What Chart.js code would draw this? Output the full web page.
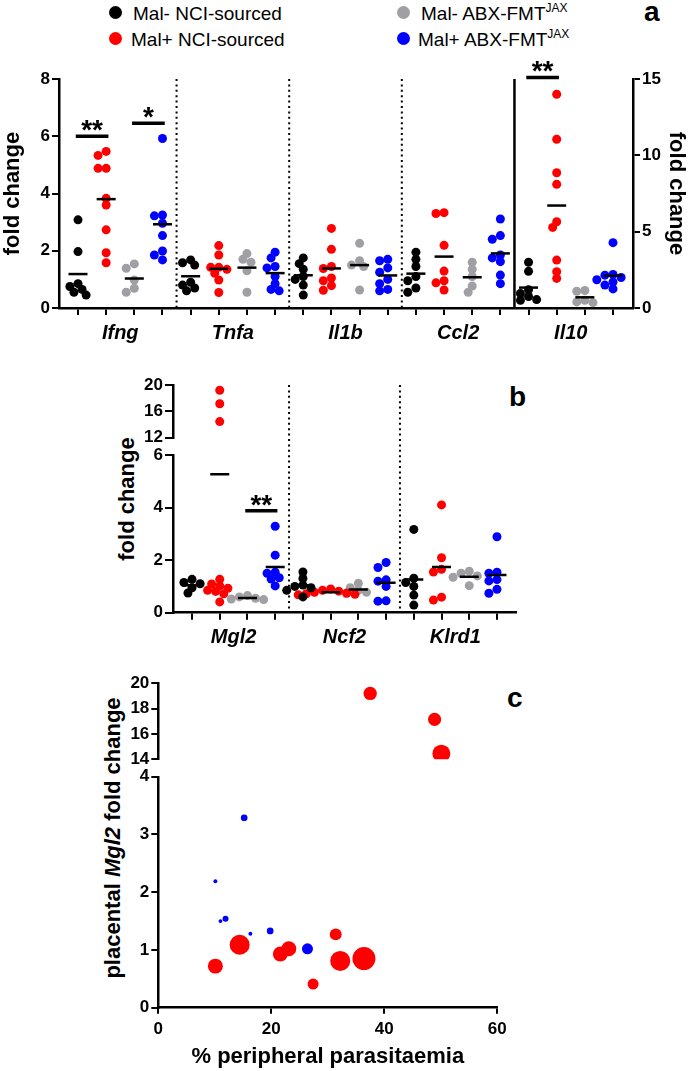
<!DOCTYPE html>
<html>
<head>
<meta charset="utf-8">
<script src="https://cdn.jsdelivr.net/npm/chart.js@4.4.0/dist/chart.umd.min.js"></script>
<style>
html,body{margin:0;padding:0;background:#fff;}
body{width:689px;height:1071px;position:relative;overflow:hidden;font-family:"Liberation Sans",Arial,sans-serif;color:#000;}
canvas{position:absolute;left:0;}
.lg{position:absolute;font-size:19px;line-height:19px;white-space:nowrap;}
.lg sup{font-size:12px;position:relative;top:-8px;vertical-align:baseline;line-height:0;}
.dot{position:absolute;width:13px;height:13px;border-radius:50%;}
.letter{position:absolute;font-weight:bold;font-size:28px;line-height:28px;}
.yt{position:absolute;font-weight:bold;font-size:22px;line-height:22px;white-space:nowrap;transform:translate(-50%,-50%) rotate(-90deg);}
</style>
</head>
<body>
<div class="dot" style="left:109px;top:6px;background:#000"></div>
<div class="lg" style="left:133px;top:4px">Mal- NCI-sourced</div>
<div class="dot" style="left:109px;top:32px;background:#ff0000"></div>
<div class="lg" style="left:131px;top:30px">Mal+ NCI-sourced</div>
<div class="dot" style="left:397px;top:6px;background:#a0a0a4"></div>
<div class="lg" style="left:421px;top:4px">Mal- ABX-FMT<sup>JAX</sup></div>
<div class="dot" style="left:397px;top:32px;background:#0000ff"></div>
<div class="lg" style="left:418px;top:30px">Mal+ ABX-FMT<sup>JAX</sup></div>
<div class="letter" style="left:644px;top:-2px">a</div>
<div class="letter" style="left:509px;top:383px">b</div>
<div class="letter" style="left:507px;top:684px">c</div>
<div class="yt" style="left:127px;top:499px">fold change</div>
<div class="yt" style="left:113px;top:838px">placental <i>Mgl2</i> fold change</div>

<canvas id="ca" width="689" height="300" style="top:50px"></canvas>
<canvas id="cb" width="689" height="300" style="top:352px"></canvas>
<canvas id="cc" width="689" height="416" style="top:655px"></canvas>

<script>
// ---------------- DATA ----------------
const groupNames = ['Mal- NCI-sourced', 'Mal+ NCI-sourced', 'Mal- ABX-FMT JAX', 'Mal+ ABX-FMT JAX'];
const groupColors = ['#000000', '#ff0000', '#a0a0a4', '#0000ff'];

// Panel a: fold change per gene, one list per group (black, red, grey, blue)
const genesA = ['Ifng', 'Tnfa', 'Il1b', 'Ccl2', 'Il10'];
const ifng = [[3.08, 1.97, 0.85, 0.75, 0.65, 0.55, 0.45], [5.47, 5.33, 4.88, 4.88, 3.83, 3.6, 2.73, 1.93, 1.58], [1.54, 1.39, 0.98, 0.69, 0.55], [5.92, 3.25, 3.22, 2.96, 2.53, 1.99, 1.85, 1.68]];
const tnfa = [[1.68, 1.58, 1.5, 0.9, 0.8, 0.7, 0.6], [2.18, 1.85, 1.42, 1.42, 1.35, 1.21, 0.98, 0.54], [1.9, 1.7, 1.6, 1.3, 0.55], [1.95, 1.75, 1.45, 1.4, 1.1, 0.85, 0.65, 0.6]];
const il1b = [[1.75, 1.55, 1.35, 1.1, 1.0, 0.8, 0.45], [2.78, 2.05, 1.45, 1.38, 1.05, 0.95, 0.78, 0.62], [2.26, 1.65, 1.5, 1.45, 0.63], [1.7, 1.65, 1.4, 1.25, 1.0, 0.85, 0.65, 0.6]];
const ccl2 = [[1.95, 1.7, 1.45, 1.1, 0.95, 0.7, 0.55], [3.33, 3.3, 2.19, 1.29, 0.95, 0.88, 0.63], [1.6, 1.35, 1.1, 0.77, 0.55], [3.11, 2.53, 2.4, 1.85, 1.75, 1.62, 1.15, 0.85]];
const il10 = [[3.0, 2.4, 1.2, 0.95, 0.75, 0.55, 0.5], [14.0, 11.05, 8.86, 8.1, 5.65, 5.28, 3.14, 2.38, 1.94], [1.15, 1.1, 0.5, 0.4, 0.35], [4.28, 2.2, 2.15, 2.0, 1.85, 1.7, 1.5, 1.25]];
const rightAxisGenesA = ['Il10'];
const yTicksA = [0, 2, 4, 6, 8];
const y2TicksA = [0, 5, 10, 15];
const sigA = [
  {from: 0, to: 1, y: 6.0, label: '**', axis: 'y'},
  {from: 2, to: 3, y: 6.45, label: '*', axis: 'y'},
  {from: 16, to: 17, y: 15.1, label: '**', axis: 'y2'}
];

// Panel b
const genesB = ['Mgl2', 'Ncf2', 'Klrd1'];
const mgl2 = [[1.27, 1.15, 1.1, 0.95, 0.75], [19.2, 17.15, 14.45, 1.27, 1.09, 1.02, 0.93, 0.85, 0.81, 0.72, 0.41], [0.65, 0.6, 0.55, 0.52, 0.5], [3.29, 2.19, 1.54, 1.5, 1.33, 1.28, 1.02]];
const ncf2 = [[1.55, 1.3, 1.05, 1.0, 0.95, 0.85, 0.6], [0.9, 0.85, 0.82, 0.78, 0.75, 0.72, 0.7, 0.68], [1.12, 0.95, 0.85, 0.78, 0.72], [1.91, 1.72, 1.25, 1.2, 1.0, 0.45, 0.44]];
const klrd1 = [[3.17, 1.31, 1.15, 1.0, 0.67, 0.29], [4.1, 2.09, 1.65, 1.55, 0.59, 0.48], [1.58, 1.5, 1.4, 1.35, 1.03], [2.89, 1.54, 1.5, 1.26, 1.21, 0.89, 0.74]];
const yTicksBLow = [0, 2, 4, 6];
const yTicksBHigh = [12, 16, 20];
const sigB = [{from: 2, to: 3, y: 3.88, label: '**', axis: 'yBot'}];

// Panel c: % peripheral parasitaemia vs placental Mgl2 fold change, bubble weight
const parasitaemiaRed = [37.5, 48.9, 50.1, 10.1, 14.4, 21.6, 23.1, 27.4, 31.4, 32.2, 36.4];
const mgl2Red = [19.2, 17.15, 14.45, 0.72, 1.09, 0.93, 1.02, 0.41, 1.27, 0.81, 0.85];
const weightRed = [5.8, 5.7, 7.8, 6.5, 8.7, 6.5, 6.5, 4.8, 5.2, 8.7, 10];
const parasitaemiaBlue = [15.2, 10.1, 11.0, 11.9, 16.3, 19.8, 26.4];
const mgl2Blue = [3.29, 2.19, 1.5, 1.54, 1.28, 1.33, 1.02];
const weightBlue = [2.9, 1.7, 1.7, 2.6, 1.7, 2.9, 4.8];
const xTicksC = [0, 20, 40, 60];
const yTicksCLow = [0, 1, 2, 3, 4];
const yTicksCHigh = [14, 16, 18, 20];

// ---------------- STYLE / LAYOUT ----------------
Chart.defaults.font.family = "'Liberation Sans', Arial, sans-serif";
Chart.defaults.color = '#000';
const TICK_FONT = {size: 17, weight: 'bold'};
const GENE_FONT = {size: 20, weight: 'bold', style: 'italic'};
const TITLE_FONT = {size: 22, weight: 'bold'};
const BORDER = {display: true, color: '#000', width: 2.5};
const PT_R = 4.5, DIAM = 9;

function yAxis(o) {
  const ax = {
    type: 'linear', axis: 'y', position: o.position || 'left',
    min: o.min, max: o.max,
    afterBuildTicks: a => { a.ticks = o.ticks.map(v => ({value: v})); },
    afterFit: s => { s.width = o.width; },
    border: BORDER,
    grid: {drawOnChartArea: false, drawTicks: true, tickLength: o.tl, lineWidth: 2, color: '#000'},
    ticks: {font: TICK_FONT, color: '#000', padding: o.pad, autoSkip: false},
    title: o.title ? {display: true, text: o.title, font: TITLE_FONT, color: '#000', padding: {top: o.titlePad || 0, bottom: 0}} : {display: false}
  };
  if (o.stack) { ax.stack = o.stack; ax.stackWeight = o.stackWeight; ax.weight = o.weight; }
  return ax;
}
function gapAxis(stack, stackWeight, width) {
  return {type: 'linear', axis: 'y', position: 'left', stack: stack, stackWeight: stackWeight, weight: 1,
    min: 0, max: 1, afterFit: s => { s.width = width; },
    border: {display: false}, grid: {display: false}, ticks: {display: false}};
}
function stripX(genes, o) {
  const n = genes.length * 4;
  return {
    type: 'linear', axis: 'x', position: 'bottom', min: o.min, max: o.max,
    afterBuildTicks: a => {
      const t = [];
      for (let i = 0; i < n; i++) t.push({value: i});
      genes.forEach((g, j) => t.push({value: j * 4 + 1.5}));
      t.sort((p, q) => p.value - q.value);
      a.ticks = t;
    },
    afterFit: s => { s.height = o.height; },
    border: BORDER,
    grid: {drawOnChartArea: false, tickLength: 7, lineWidth: 2,
      color: c => (c.tick && !Number.isInteger(c.tick.value)) ? 'rgba(0,0,0,0)' : '#000'},
    ticks: {autoSkip: false, maxRotation: 0, minRotation: 0, padding: 6, font: GENE_FONT, color: '#000',
      callback: v => Number.isInteger(v) ? '' : genes[Math.floor(v / 4)]}
  };
}

// beeswarm offsets (pixels) so that dots of one group do not overlap too much
function swarm(vals, toPx) {
  const order = vals.map((v, i) => i).sort((a, b) => vals[b] - vals[a]);
  const placed = [], off = vals.map(() => 0), step = DIAM * 0.45;
  order.forEach(i => {
    const y = toPx(vals[i]);
    for (let k = 0; k < 40; k++) {
      const o = k === 0 ? 0 : (k % 2 ? -1 : 1) * Math.ceil(k / 2) * step;
      if (placed.every(p => Math.hypot(p.x - o, p.y - y) >= DIAM * 0.72)) { off[i] = o; placed.push({x: o, y}); break; }
    }
  });
  return off;
}

function buildStrip(geneData, axisFor, toPx, pxPerX) {
  const buckets = {};
  const meanBuckets = {};
  geneData.forEach((groups, g) => {
    groups.forEach((vals, k) => {
      const xc = g * 4 + k;
      const offs = swarm(vals, v => toPx(v, g));
      vals.forEach((v, i) => {
        const ax = axisFor(v, g);
        const key = k + '|' + ax;
        (buckets[key] = buckets[key] || {k, ax, data: []}).data.push({x: xc + offs[i] / pxPerX, y: v});
      });
      const m = vals.reduce((a, b) => a + b, 0) / vals.length;
      const max = axisFor(m, g);
      (meanBuckets[max] = meanBuckets[max] || []).push({x: xc, y: m});
    });
  });
  const ds = Object.values(buckets).map(b => ({
    type: 'scatter', data: b.data, yAxisID: b.ax, order: 2,
    pointRadius: PT_R, pointBackgroundColor: groupColors[b.k], pointBorderWidth: 0, pointBorderColor: groupColors[b.k]
  }));
  Object.keys(meanBuckets).forEach(ax => ds.push({
    type: 'scatter', data: meanBuckets[ax], yAxisID: ax, order: 0,
    pointStyle: 'line', pointRadius: 9.5, pointBorderColor: '#000', pointBorderWidth: 2.5
  }));
  return ds;
}

const decor = {
  id: 'decor',
  afterDatasetsDraw(chart, args, opts) {
    const ctx = chart.ctx, xs = chart.scales.x, area = chart.chartArea;
    ctx.save();
    ctx.strokeStyle = '#000'; ctx.fillStyle = '#000';
    (opts.separators || []).forEach(s => {
      const px = xs.getPixelForValue(s.at);
      ctx.beginPath();
      ctx.lineWidth = s.solid ? 2.5 : 2;
      ctx.setLineDash(s.solid ? [] : [2, 3.4]);
      ctx.moveTo(px, area.top); ctx.lineTo(px, area.bottom); ctx.stroke();
    });
    ctx.setLineDash([]);
    (opts.sig || []).forEach(b => {
      const ys = chart.scales[b.axis];
      const x1 = xs.getPixelForValue(b.from - 0.08), x2 = xs.getPixelForValue(b.to + 0.08);
      const py = ys.getPixelForValue(b.y);
      ctx.lineWidth = 3.5;
      ctx.beginPath(); ctx.moveTo(x1, py); ctx.lineTo(x2, py); ctx.stroke();
      ctx.font = "bold 28px 'Liberation Sans', Arial, sans-serif";
      ctx.textAlign = 'center'; ctx.textBaseline = 'alphabetic';
      ctx.fillText(b.label, (x1 + x2) / 2, py + 3);
    });
    ctx.restore();
  }
};

function separators(genes, solidBefore) {
  const s = [];
  for (let g = 1; g < genes.length; g++) s.push({at: g * 4 - 0.5, solid: solidBefore.includes(genes[g])});
  return s;
}

const baseOpts = {responsive: false, animation: false, events: [],
  plugins: {legend: {display: false}, tooltip: {enabled: false}}};

// ---------------- PANEL A ----------------
const A = {left: 59, right: 633, top: 79, bottom: 308, xmin: -0.675, xmax: 19.71};
const aH = A.bottom - A.top;
const geneDataA = [ifng, tnfa, il1b, ccl2, il10];
const axisForA = (v, g) => rightAxisGenesA.includes(genesA[g]) ? 'y2' : 'y';
const toPxA = (v, g) => axisForA(v, g) === 'y2' ? v * aH / 15 : v * aH / 8;
new Chart(document.getElementById('ca'), {
  type: 'scatter',
  data: {datasets: buildStrip(geneDataA, axisForA, toPxA, (A.right - A.left) / (A.xmax - A.xmin))},
  options: Object.assign({}, baseOpts, {
    layout: {padding: {left: 0, right: 0, top: A.top - 50, bottom: 6}},
    scales: {
      x: stripX(genesA, {min: A.xmin, max: A.xmax, height: 36}),
      y: yAxis({min: 0, max: 8, ticks: yTicksA, width: A.left, tl: 7, pad: 2, title: 'fold change', titlePad: 0}),
      y2: yAxis({position: 'right', min: 0, max: 15, ticks: y2TicksA, width: 689 - A.right, tl: 7, pad: 2, title: 'fold change', titlePad: 0})
    },
    plugins: Object.assign({}, baseOpts.plugins, {decor: {separators: separators(genesA, rightAxisGenesA), sig: sigA}})
  }),
  plugins: [decor]
});

// ---------------- PANEL B ----------------
const B = {left: 173, right: 516, top: 385, bottom: 612.7, xmin: -0.686, xmax: 11.686, wHigh: 52.7, wGap: 17.3, wLow: 157.7};
const geneDataB = [mgl2, ncf2, klrd1];
const axisForB = v => v > 10 ? 'yTop' : 'yBot';
const toPxB = v => v > 10 ? (v - 12) * B.wHigh / 8 + B.wLow + B.wGap : v * B.wLow / 6;
new Chart(document.getElementById('cb'), {
  type: 'scatter',
  data: {datasets: buildStrip(geneDataB, axisForB, toPxB, (B.right - B.left) / (B.xmax - B.xmin))},
  options: Object.assign({}, baseOpts, {
    layout: {padding: {left: 0, right: 689 - B.right, top: B.top - 352, bottom: 300 - (B.bottom - 352) - 36}},
    scales: {
      x: stripX(genesB, {min: B.xmin, max: B.xmax, height: 36}),
      yBot: yAxis({min: 0, max: 6, ticks: yTicksBLow, width: B.left, tl: 8, pad: 2, stack: 'b', stackWeight: B.wLow, weight: 0}),
      yGap: gapAxis('b', B.wGap, B.left),
      yTop: yAxis({min: 12, max: 20, ticks: yTicksBHigh, width: B.left, tl: 8, pad: 2, stack: 'b', stackWeight: B.wHigh, weight: 2})
    },
    plugins: Object.assign({}, baseOpts.plugins, {decor: {separators: separators(genesB, []), sig: sigB}})
  }),
  plugins: [decor]
});

// ---------------- PANEL C ----------------
const C = {left: 158.3, right: 497.3, top: 683.3, bottom: 1007.7, wHigh: 76, wGap: 17.4, wLow: 230.8};
function bubbleSets(xs, ys, ws, color) {
  const low = [], high = [];
  xs.forEach((x, i) => (ys[i] > 10 ? high : low).push({x, y: ys[i], r: ws[i] * 1.15}));
  const mk = (d, ax) => ({type: 'bubble', data: d, yAxisID: ax, backgroundColor: color, borderWidth: 0, borderColor: color});
  return [mk(low, 'yBot'), mk(high, 'yTop')].filter(d => d.data.length);
}
new Chart(document.getElementById('cc'), {
  type: 'bubble',
  data: {datasets: [
    ...bubbleSets(parasitaemiaBlue, mgl2Blue, weightBlue, groupColors[3]),
    ...bubbleSets(parasitaemiaRed, mgl2Red, weightRed, groupColors[1])
  ]},
  options: Object.assign({}, baseOpts, {
    layout: {padding: {left: 0, right: 689 - C.right, top: C.top - 655, bottom: 0}},
    scales: {
      x: {type: 'linear', axis: 'x', position: 'bottom', min: 0, max: 60,
        afterBuildTicks: a => { a.ticks = xTicksC.map(v => ({value: v})); },
        afterFit: s => { s.height = 1071 - C.bottom; },
        border: BORDER,
        grid: {drawOnChartArea: false, tickLength: 6, lineWidth: 2, color: '#000'},
        ticks: {font: TICK_FONT, color: '#000', padding: 5, maxRotation: 0},
        title: {display: true, text: '% peripheral parasitaemia', font: TITLE_FONT, color: '#000', padding: {top: 0, bottom: 1}}},
      yBot: yAxis({min: 0, max: 4, ticks: yTicksCLow, width: C.left, tl: 7, pad: 2, stack: 'c', stackWeight: C.wLow, weight: 0}),
      yGap: gapAxis('c', C.wGap, C.left),
      yTop: yAxis({min: 14, max: 20, ticks: yTicksCHigh, width: C.left, tl: 7, pad: 2, stack: 'c', stackWeight: C.wHigh, weight: 2})
    }
  })
});
</script>
</body>
</html>
